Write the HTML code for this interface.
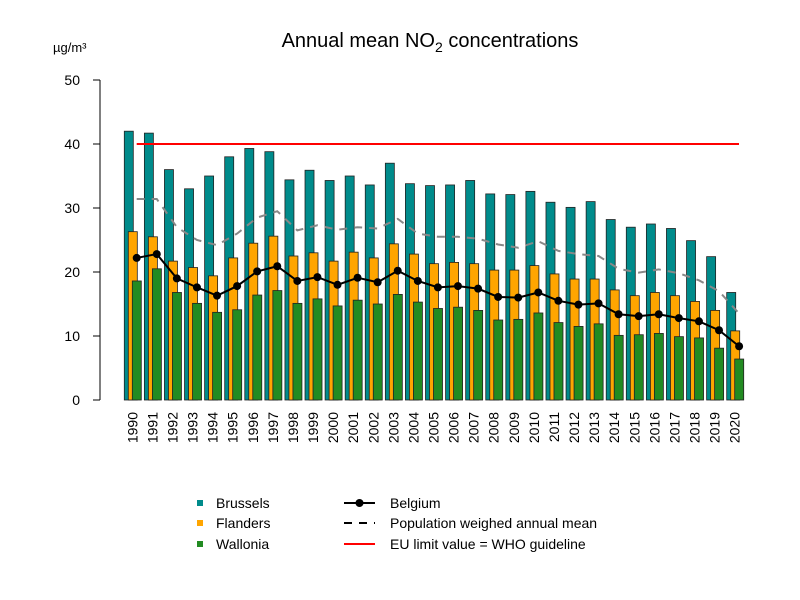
<!DOCTYPE html>
<html><head><meta charset="utf-8"><style>body{margin:0;background:#fff}svg{display:block}text{font-family:"Liberation Sans",Arial,sans-serif;fill:#000}</style></head>
<body>
<svg id="s" width="800" height="600" xmlns="http://www.w3.org/2000/svg">
<text x="430" y="47" font-size="20" text-anchor="middle">Annual mean NO<tspan font-size="14" dy="5">2</tspan><tspan dy="-5"> concentrations</tspan></text>
<text x="53" y="52" font-size="13">µg/m³</text>
<g id="g"></g>
<g font-size="14">
<rect x="197" y="500" width="6" height="6" fill="#008b8b"/><text x="216" y="508">Brussels</text>
<rect x="197" y="520" width="6" height="6" fill="#ffa500"/><text x="216" y="528">Flanders</text>
<rect x="197" y="541" width="6" height="6" fill="#228b22"/><text x="216" y="549">Wallonia</text>
<line x1="344" y1="503" x2="375" y2="503" stroke="#000" stroke-width="2"/><circle cx="359.5" cy="503" r="4"/><text x="390" y="508">Belgium</text>
<line x1="344" y1="523" x2="375" y2="523" stroke="#000" stroke-width="2" stroke-dasharray="8,7"/><text x="390" y="528">Population weighed annual mean</text>
<line x1="344" y1="544" x2="375" y2="544" stroke="#ff0000" stroke-width="2"/><text x="390" y="549">EU limit value = WHO guideline</text>
</g>
</svg>
<script>
var B=[42,41.7,36,33,35,38,39.3,38.8,34.4,35.9,34.3,35,33.6,37,33.8,33.5,33.6,34.3,32.2,32.1,32.6,30.9,30.1,31,28.2,27,27.5,26.8,24.9,22.4,16.8];
var F=[26.3,25.5,21.7,20.7,19.4,22.2,24.5,25.6,22.5,23,21.7,23.1,22.2,24.4,22.8,21.3,21.5,21.3,20.3,20.3,21,19.7,18.9,18.9,17.2,16.3,16.8,16.3,15.4,14,10.8];
var W=[18.6,20.5,16.8,15.1,13.7,14.1,16.4,17.1,15.1,15.8,14.7,15.6,15,16.5,15.3,14.3,14.5,14,12.5,12.6,13.6,12.1,11.5,11.9,10.1,10.2,10.4,9.9,9.7,8.1,6.4];
var L=[22.2,22.8,19,17.6,16.3,17.8,20.1,20.9,18.6,19.2,18,19.1,18.4,20.2,18.6,17.6,17.8,17.4,16.1,16,16.8,15.5,14.9,15.1,13.4,13.1,13.4,12.8,12.3,10.9,8.4];
var P=[31.4,31.4,27,25,24.2,26,28.5,29.5,26.5,27.3,26.6,27,26.8,28.3,26,25.5,25.5,25.2,24.3,23.8,24.8,23.3,22.8,22.5,20.5,19.9,20.4,19.8,18.7,17,13.5];
function y(v){return 400-v*6.4}
var h='';
h+='<line x1="100" y1="80" x2="100" y2="400" stroke="#000"/>';
for(var t=0;t<=50;t+=10){h+='<line x1="93" y1="'+y(t)+'" x2="100" y2="'+y(t)+'" stroke="#000"/><text x="80" y="'+(y(t)+5)+'" font-size="14" text-anchor="end">'+t+'</text>';}
var px=[];
for(var i=0;i<31;i++){var x=124.3+i*20.08;
h+='<rect x="'+x+'" y="'+y(B[i])+'" width="9" height="'+(B[i]*6.4)+'" fill="#008b8b" stroke="#222" stroke-width="0.8"/>';
h+='<rect x="'+(x+4)+'" y="'+y(F[i])+'" width="9" height="'+(F[i]*6.4)+'" fill="#ffa500" stroke="#222" stroke-width="0.8"/>';
h+='<rect x="'+(x+8)+'" y="'+y(W[i])+'" width="9" height="'+(W[i]*6.4)+'" fill="#228b22" stroke="#222" stroke-width="0.8"/>';
px.push(x+12.4);
var cx=x+13;h+='<text transform="translate('+cx+',412) rotate(-90)" font-size="14" text-anchor="end">'+(1990+i)+'</text>';}
h+='<line x1="136.7" y1="144" x2="739" y2="144" stroke="#ff0000" stroke-width="2"/>';
var d='',e='';for(i=0;i<31;i++){d+=(i?'L':'M')+px[i]+','+y(P[i]);e+=(i?'L':'M')+px[i]+','+y(L[i]);}
h+='<path d="'+d+'" fill="none" stroke="#888" stroke-width="2" stroke-dasharray="8,7"/>';
h+='<path d="'+e+'" fill="none" stroke="#000" stroke-width="2"/>';
for(i=0;i<31;i++)h+='<circle cx="'+px[i]+'" cy="'+y(L[i])+'" r="4"/>';
document.getElementById('g').innerHTML=h;
</script>
</body></html>
